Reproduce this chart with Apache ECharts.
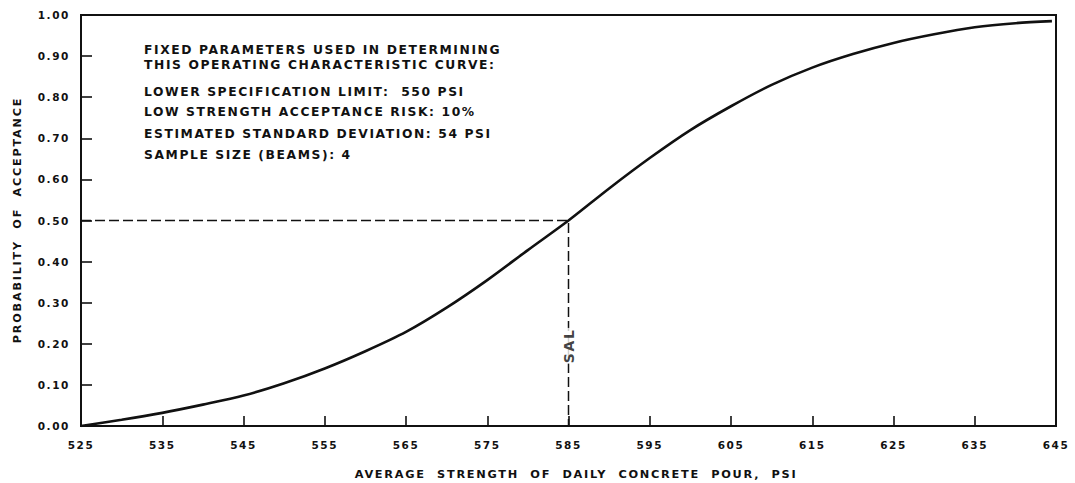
<!DOCTYPE html>
<html>
<head>
<meta charset="utf-8">
<script src="https://cdn.jsdelivr.net/npm/echarts@6/dist/echarts.min.js"></script>
<style>
  html, body { margin: 0; padding: 0; background: #fff; }
  #chart { width: 1075px; height: 483px; }
  /* wide, hand-lettered look for every label */
  #chart text { letter-spacing: 1.6px; }
</style>
</head>
<body>
<div id="chart"></div>
<script>
// Average strength of daily concrete pour (psi)
const strength = [525, 530, 535, 540, 545, 550, 555, 560, 565, 570, 575, 580,
                  585, 590, 595, 600, 605, 610, 615, 620, 625, 630, 635, 640, 644.5];
// Probability of acceptance at each strength
const probability = [0.000, 0.015, 0.032, 0.052, 0.074, 0.104, 0.140, 0.182, 0.229,
                     0.288, 0.355, 0.428, 0.500, 0.578, 0.652, 0.720, 0.778, 0.830,
                     0.872, 0.905, 0.932, 0.953, 0.970, 0.980, 0.985];

// Strength acceptance level and its probability
const salStrength = 585;
const salProbability = 0.5;
const salLabel = 'SAL';
const salLabelProbability = 0.195;

const xRange = [525, 645];
const xStep = 10;
const yRange = [0, 1];
const yStep = 0.1;

const xTitle = 'AVERAGE  STRENGTH  OF  DAILY  CONCRETE  POUR,  PSI';
const yTitle = 'PROBABILITY  OF  ACCEPTANCE';

const noteLines = [
  'FIXED PARAMETERS USED IN DETERMINING',
  'THIS OPERATING CHARACTERISTIC CURVE:',
  'LOWER SPECIFICATION LIMIT:  550 PSI',
  'LOW STRENGTH ACCEPTANCE RISK: 10%',
  'ESTIMATED STANDARD DEVIATION: 54 PSI',
  'SAMPLE SIZE (BEAMS): 4'
];
const noteTops = [43.8, 58.8, 85.5, 106.1, 127.8, 148.8];

const ink = '#111';
const font = 'DejaVu Sans';

const curve = strength.map((s, i) => [s, probability[i]]);
const salPath = [[xRange[0], salProbability], [salStrength, salProbability], [salStrength, 0]];

const chart = echarts.init(document.getElementById('chart'), null, { renderer: 'svg' });

const labelStyle = { color: ink, fontFamily: font, fontWeight: 'bold', fontSize: 10.5 };

chart.setOption({
  animation: false,
  backgroundColor: '#fff',
  grid: {
    left: 81, right: 19, top: 15, bottom: 57,
    show: true, borderColor: ink, borderWidth: 2, backgroundColor: 'transparent'
  },
  xAxis: {
    type: 'value',
    min: xRange[0], max: xRange[1], interval: xStep,
    axisLine: { show: true, onZero: false, lineStyle: { color: ink, width: 2 } },
    axisTick: { show: true, inside: true, length: 10, lineStyle: { color: ink, width: 1.6 } },
    axisLabel: Object.assign({ margin: 13 }, labelStyle),
    splitLine: { show: false }
  },
  yAxis: {
    type: 'value',
    min: yRange[0], max: yRange[1], interval: yStep,
    axisLine: { show: true, lineStyle: { color: ink, width: 2 } },
    axisTick: { show: true, inside: true, length: 11, lineStyle: { color: ink, width: 1.6 } },
    axisLabel: Object.assign({ margin: 11, formatter: v => v.toFixed(2) }, labelStyle),
    splitLine: { show: false }
  },
  graphic: [
    {
      type: 'text', x: 17, y: 220, rotation: Math.PI / 2, scaleX: 1.14,
      style: { text: yTitle, x: 0, y: 0, align: 'center', verticalAlign: 'middle',
               fill: ink, font: 'bold 9.8px ' + font }
    },
    {
      type: 'text', x: 576, y: 475, scaleX: 1.08,
      style: { text: xTitle, x: 0, y: 0, align: 'center', verticalAlign: 'middle',
               fill: ink, font: 'bold 10.5px ' + font }
    }
  ].concat(noteLines.map((line, i) => ({
    type: 'text', x: 144, y: noteTops[i],
    style: { text: line, x: 0, y: 0, align: 'left', verticalAlign: 'top',
             fill: ink, font: 'bold 12.3px ' + font }
  }))),
  series: [
    {
      type: 'line',
      data: salPath,
      symbol: 'none',
      lineStyle: { color: ink, width: 1.5, type: [10, 4] },
      z: 2
    },
    {
      type: 'line',
      data: curve,
      smooth: 0.3,
      symbol: 'none',
      lineStyle: { color: ink, width: 2.6 },
      z: 3
    },
    {
      type: 'scatter',
      data: [[salStrength, salLabelProbability]],
      symbolSize: 0,
      z: 4,
      label: {
        show: true, position: 'inside', formatter: salLabel, rotate: 90,
        color: ink, fontFamily: font, fontWeight: 'bold', fontSize: 14,
        backgroundColor: '#fff', padding: [0, 3]
      }
    }
  ]
});
</script>
</body>
</html>
